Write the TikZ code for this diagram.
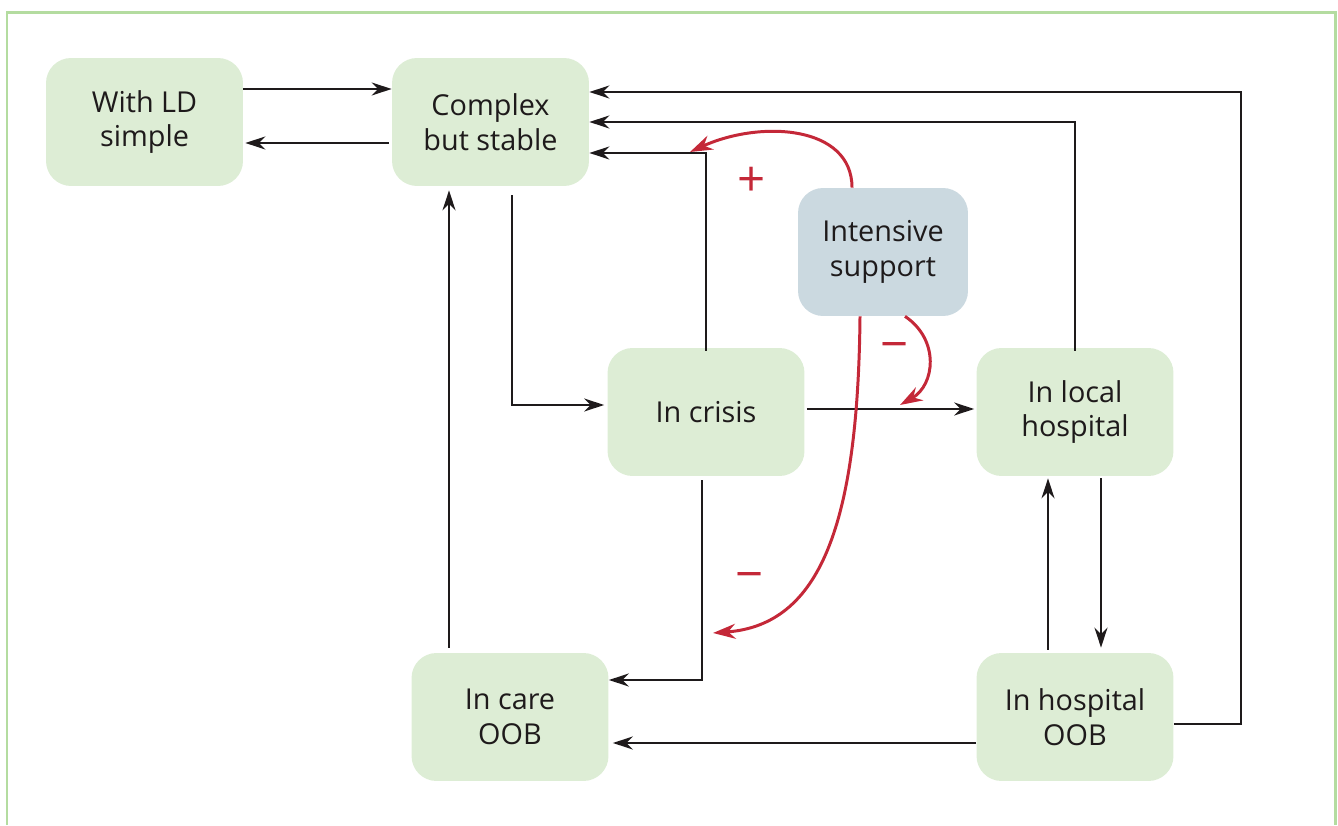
\documentclass[tikz,border=0pt]{standalone}
\usepackage{fontspec}
\setmainfont{Open Sans}
\usetikzlibrary{arrows.meta}

\definecolor{boxgreen}{RGB}{221,237,213}
\definecolor{boxblue}{RGB}{203,217,224}
\definecolor{framegreen}{RGB}{180,220,160}
\definecolor{signred}{RGB}{196,40,56}
\definecolor{ink}{RGB}{30,26,27}

\tikzset{
  box/.style={rounded corners=0.5cm,fill=boxgreen,minimum width=3.94cm,minimum height=2.56cm,
    align=center,text=ink,font=\fontsize{16.4}{19.8}\selectfont},
  conn/.style={draw=ink,line width=1.25pt,-{Stealth[length=0.4cm,width=0.26cm]}},
  redconn/.style={draw=signred,line width=1.7pt,-{Stealth[length=0.45cm,width=0.3cm]}},
  sign/.style={text=signred,font=\fontsize{28}{28}\selectfont,inner sep=0pt}
}

\begin{document}
\begin{tikzpicture}[x=0.02cm,y=0.02cm,line join=miter]
  \useasboundingbox (0,0) rectangle (1338,825);
  \draw[framegreen,line width=0.06cm] (7,0) -- (7,812) -- (1335,812) -- (1335,0);

  \node[box] (withld) at (144.5,703) {With LD\\simple};
  \node[box] (complex) at (490.5,703) {Complex\\but stable};
  \node[box,fill=boxblue,minimum width=3.4cm] (intensive) at (883,573) {Intensive\\support};
  \node[box] (crisis) at (706,413) {In crisis};
  \node[box] (local) at (1075,413) {In local\\hospital};
  \node[box] (care) at (510,108) {In care\\OOB};
  \node[box] (hospoob) at (1075,108) {In hospital\\OOB};

  % moves between the states
  \draw[conn] ([yshift=0.66cm]withld.east) -- ([yshift=0.66cm]complex.west);
  \draw[conn,shorten <=0.06cm,shorten >=0.04cm] ([yshift=-0.42cm]complex.west) -- ([yshift=-0.42cm]withld.east);
  \draw[conn,shorten <=-0.06cm] (local.north) |- (complex.east);
  \draw[conn] ([yshift=-0.14cm]hospoob.east) -- ++(67,0) |- ([yshift=0.6cm]complex.east);
  \draw[conn,shorten <=-0.06cm] (crisis.north) |- ([yshift=-0.62cm]complex.east);
  \draw[conn,shorten <=0.18cm,shorten >=0.06cm] ([xshift=0.43cm]complex.south) |- ([yshift=0.14cm]crisis.west);
  \draw[conn,shorten <=0.04cm,shorten >=0.04cm] ([yshift=0.06cm]crisis.east) -- ([yshift=0.06cm]local.west);
  \draw[conn,shorten <=0.08cm] ([xshift=-0.08cm]crisis.south) |- ([yshift=0.74cm]care.east);
  \draw[conn,shorten <=0.1cm,shorten >=0.08cm] ([xshift=-1.22cm]care.north) -- ([xshift=-1.22cm]care.north |- complex.south);
  \draw[conn,shorten >=0.08cm] ([yshift=-0.52cm]hospoob.west) -- ([yshift=-0.52cm]care.east);
  \draw[conn,shorten <=0.04cm,shorten >=0.1cm] ([xshift=0.52cm]local.south) -- ([xshift=0.52cm]hospoob.north);
  \draw[conn,shorten <=0.06cm,shorten >=0.04cm] ([xshift=-0.54cm]hospoob.north) -- ([xshift=-0.54cm]local.south);

  % effect of intensive support
  \coordinate (plustip) at (690,673);
  \coordinate (minustip) at (900,420);
  \coordinate (caretip) at (713,192);
  \draw[redconn] ([xshift=-0.62cm]intensive.north) .. controls (852,700) and (760,705) .. (plustip);
  \draw[redconn] ([xshift=0.44cm]intensive.south) .. controls (940,485) and (935,440) .. (minustip);
  \draw[redconn] ([xshift=-0.46cm]intensive.south) .. controls (858,300) and (820,200) .. (caretip);
  \node[sign] (plus) at (752,643) {+};
  \node[sign] (minusa) at (895,473) {−};
  \node[sign] (minusb) at (750,243) {−};
\end{tikzpicture}
\end{document}
